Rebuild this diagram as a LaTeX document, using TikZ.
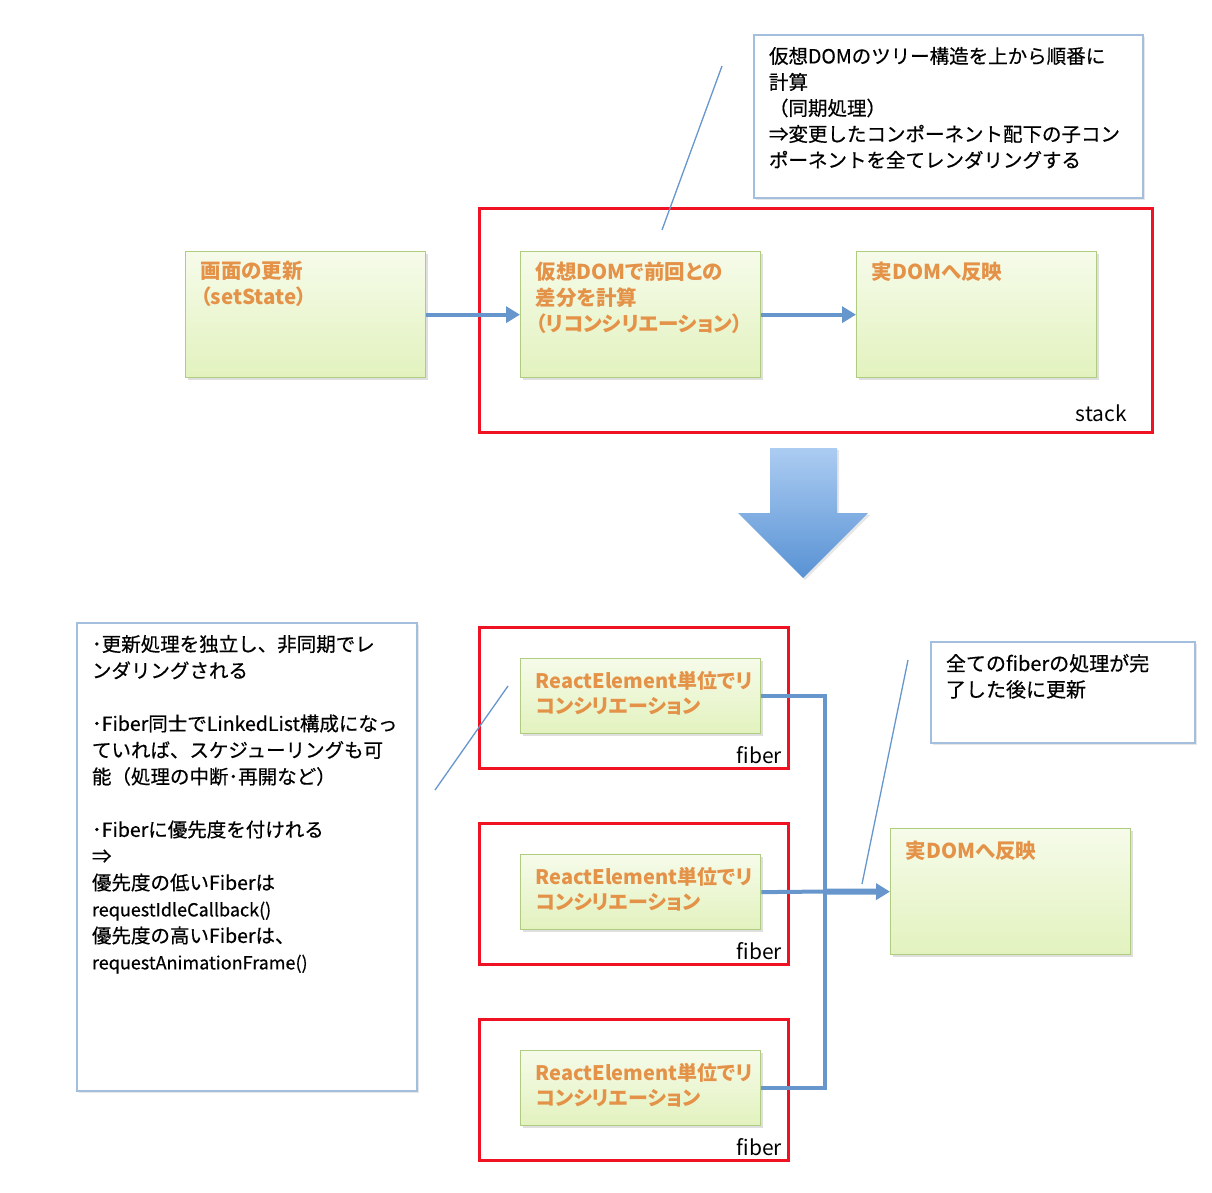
\documentclass[tikz,border=0pt]{standalone}
\usepackage{fontspec}
\setmainfont{Noto Sans CJK JP}
\newfontfamily\boxfont[RawFeature=+palt]{Noto Sans CJK JP}
\newfontfamily\notefont[FakeBold=0.5]{Noto Sans CJK JP}
\usepackage{xcolor}
\usepackage{tikz}
\usetikzlibrary{arrows.meta,shadows}

\definecolor{boxline}{RGB}{176,204,128}
\definecolor{greentop}{RGB}{246,251,234}
\definecolor{greenbot}{RGB}{226,242,190}
\definecolor{labeltxt}{RGB}{228,146,72}
\definecolor{flowblue}{RGB}{102,150,204}
\definecolor{noteline}{RGB}{164,190,222}
\definecolor{frame}{RGB}{238,18,34}
\definecolor{bigtop}{RGB}{172,204,242}
\definecolor{bigbot}{RGB}{88,146,212}

\tikzset{
  greenbox/.style={draw=boxline,line width=1.3pt,top color=greentop,bottom color=greenbot,
    text=labeltxt,font=\boxfont\bfseries\fontsize{20.5}{26}\selectfont,anchor=north west,
    inner xsep=15pt,inner ysep=10pt,
    drop shadow={opacity=0.25,shadow xshift=2pt,shadow yshift=-2pt}},
  notebox/.style={draw=noteline,line width=2pt,fill=white,anchor=north west,
    font=\notefont,inner xsep=15pt,inner ysep=12pt,
    drop shadow={opacity=0.2,shadow xshift=2pt,shadow yshift=-2pt}},
  redframe/.style={draw=frame,line width=3pt},
  flow/.style={draw=flowblue,line width=4pt,-{Triangle[length=14pt,width=16pt]}},
  bus/.style={draw=flowblue,line width=4pt},
  leader/.style={draw=flowblue,line width=1.3pt},
  tag/.style={font=\fontsize{21}{24}\selectfont,anchor=base east,inner sep=0pt}
}

\begin{document}
\begin{tikzpicture}[x=1pt,y=-1pt]
\useasboundingbox (0,0) rectangle (1212,1192);

% stack
\draw[redframe] (479,208) rectangle (1152,432);
\node (stacktag) at (1127,421) [tag] {stack};

\node (upd) at (185,251) [greenbox] {\parbox[t][106pt][t]{210pt}{画面の更新\\（setState）}};
\node (diff) at (520,251) [greenbox] {\parbox[t][106pt][t]{210pt}{仮想DOMで前回との\\差分を計算\\（リコンシリエーション）}};
\node (real1) at (856,251) [greenbox] {\parbox[t][106pt][t]{210pt}{実DOMへ反映}};
\draw[flow] (upd) -- (diff);
\draw[flow] (diff) -- (real1);

\node (stacknote) at (753,34) [notebox] {\parbox[t][139pt][t]{359pt}{\fontsize{19.5}{26}\selectfont
  仮想DOMのツリー構造を上から順番に\\計算\\（同期処理）\\⇒変更したコンポーネント配下の子コン\\ポーネントを全てレンダリングする}};
\coordinate (sn1) at (722,66);
\coordinate (sn2) at (662,230);
\draw[leader] (sn1) -- (sn2);

% big arrow
\path[top color=bigtop,bottom color=bigbot,drop shadow={opacity=0.2,shadow xshift=2pt,shadow yshift=-2pt}]
  (770,448) -- (837,448) -- (837,513) -- (868,513) -- (803,578) -- (738,513) -- (770,513) -- cycle;

% fiber
\draw[redframe] (479,627) rectangle (788,768);
\draw[redframe] (479,823) rectangle (788,964);
\draw[redframe] (479,1019) rectangle (788,1160);
\node (tag1) at (782,763) [tag] {fiber};
\node (tag2) at (782,959) [tag] {fiber};
\node (tag3) at (782,1155) [tag] {fiber};

\node (rec1) at (520,658) [greenbox] {\parbox[t][55pt][t]{210pt}{\vspace*{3pt}\fontsize{20}{25}\selectfont ReactElement単位でリ\\コンシリエーション}};
\node (rec2) at (520,854) [greenbox] {\parbox[t][55pt][t]{210pt}{\vspace*{3pt}\fontsize{20}{25}\selectfont ReactElement単位でリ\\コンシリエーション}};
\node (rec3) at (520,1050) [greenbox] {\parbox[t][55pt][t]{210pt}{\vspace*{3pt}\fontsize{20}{25}\selectfont ReactElement単位でリ\\コンシリエーション}};
\node (real2) at (890,828) [greenbox] {\parbox[t][106pt][t]{210pt}{\vspace*{2pt}実DOMへ反映}};

\coordinate (jn) at (825,891.5);
\draw[bus] (rec1.east) -| (jn);
\draw[bus] (rec3.east) -| (jn);
\draw[bus] (rec2.east) -- (jn);
\draw[flow,line width=6pt] (jn) -- (real2.west);

\node (fibernote) at (76,622) [notebox] {\parbox[t][444pt][t]{310pt}{\fontsize{19.5}{26.5}\selectfont
  ･更新処理を独立し、非同期でレ\\ンダリングされる\\[26.5pt]
  ･Fiber同士でLinkedList構成になっ\\ていれば、スケジューリングも可\\能（処理の中断･再開など）\\[26.5pt]
  ･Fiberに優先度を付けれる\\⇒\\優先度の低いFiberは\\{\fontsize{18}{26.5}\selectfont requestIdleCallback()}\\
  優先度の高いFiberは、\\{\fontsize{18}{26.5}\selectfont requestAnimationFrame()}}};
\coordinate (fn1) at (508,686);
\coordinate (fn2) at (435,790);
\draw[leader] (fn1) -- (fn2);

\node (donenote) at (930,641) [notebox] {\parbox[t][77pt][t]{234pt}{\fontsize{20}{26}\selectfont
  全てのfiberの処理が完\\了した後に更新}};
\coordinate (dn1) at (908,660);
\coordinate (dn2) at (862,884);
\draw[leader] (dn1) -- (dn2);
\end{tikzpicture}
\end{document}
